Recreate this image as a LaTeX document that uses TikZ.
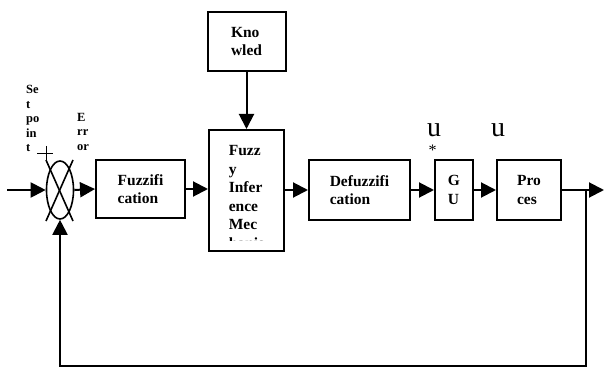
\documentclass[tikz,border=0pt]{standalone}
\usepackage{fontspec}
\setmainfont{Liberation Serif}
\usetikzlibrary{shapes,arrows.meta,positioning,calc}

\begin{document}
\begin{tikzpicture}[x=1pt, y=-1pt,
    block/.style={rectangle, draw, line width=2pt, inner sep=0pt, align=left, font=\fontsize{15.5}{18.5}\selectfont\bfseries},
    arrow/.style={-{Triangle[length=15pt,width=15pt]}, line width=2pt},
    tag/.style={inner sep=0pt, align=left, font=\fontsize{12.5}{14.5}\selectfont\bfseries}]
    \useasboundingbox (0,0) rectangle (606,369);

    % blocks of the controller
    \node[block, minimum width=78pt, minimum height=59pt] (know) at (246.5,41.5) {Kno\\wled};
    \node[block, minimum width=75pt, minimum height=121pt] (fim) at (246.5,190.5) {};
    \node[block, minimum width=89pt, minimum height=58pt] (fuzz) at (140.5,189) {Fuzzifi\\cation};
    \node[block, minimum width=101pt, minimum height=60pt] (defuzz) at (359.5,190) {Defuzzifi\\cation};
    \node[block, minimum width=38pt, minimum height=60pt] (gu) at (454,190) {G\\U};
    \node[block, minimum width=64pt, minimum height=60pt] (proc) at (529,190) {Pro\\ces};

    % text of the inference box runs past its frame
    \begin{scope}
      \clip (fim.north west) rectangle ($(fim.south east)+(0,-12)$);
      \node[block, draw=none] (fimtext) at (246.5,197) {Fuzz\\y\\Infer\\ence\\Mec\\hanis};
    \end{scope}

    % summing junction
    \node[draw, ellipse, line width=1.6pt, minimum width=27pt, minimum height=58pt, inner sep=0pt] (sum) at (60,190) {};
    \draw[line width=1.6pt] ($(sum.center)+(-14,-30)$) -- ($(sum.center)+(13,31)$);
    \draw[line width=1.6pt] ($(sum.center)+(13,-30)$) -- ($(sum.center)+(-14,31)$);
    \draw[line width=0.9pt] ($(sum.center)+(-23,-37)$) -- ($(sum.center)+(-7,-37)$)
                            ($(sum.center)+(-14,-44)$) -- ($(sum.center)+(-14,-30)$);

    \node[tag, anchor=north west] (setp) at (26,85.5) {Se\\t\\po\\in\\t};
    \node[tag, anchor=north west] (err) at (77,113) {E\\rr\\or};
    \node[inner sep=0pt, anchor=base west, font=\fontsize{28}{28}\selectfont] (ustar) at (427,136) {u};
    \node[inner sep=0pt, font=\fontsize{16}{16}\selectfont] (star) at (432.5,150) {*};
    \node[inner sep=0pt, anchor=base west, font=\fontsize{28}{28}\selectfont] (uout) at (491,136) {u};

    % signal flow
    \coordinate (in) at (7,190);
    \coordinate (out) at (604,190);
    \coordinate (branch) at (586,190);
    \coordinate (fb) at (586,366);
    \draw[arrow] (in) -- (sum.west);
    \draw[arrow] (sum.east) -- (fuzz.west);
    \draw[arrow] (fuzz.east) -- (fuzz.east -| fim.west);
    \draw[arrow] (know) -- (fim);
    \draw[arrow] (fim.east |- defuzz) -- (defuzz.west);
    \draw[arrow] (defuzz) -- (gu);
    \draw[arrow] (gu) -- (proc);
    \draw[arrow] (proc) -- (out);
    \draw[arrow] (branch) -- (fb) -| (sum.south);
\end{tikzpicture}
\end{document}
